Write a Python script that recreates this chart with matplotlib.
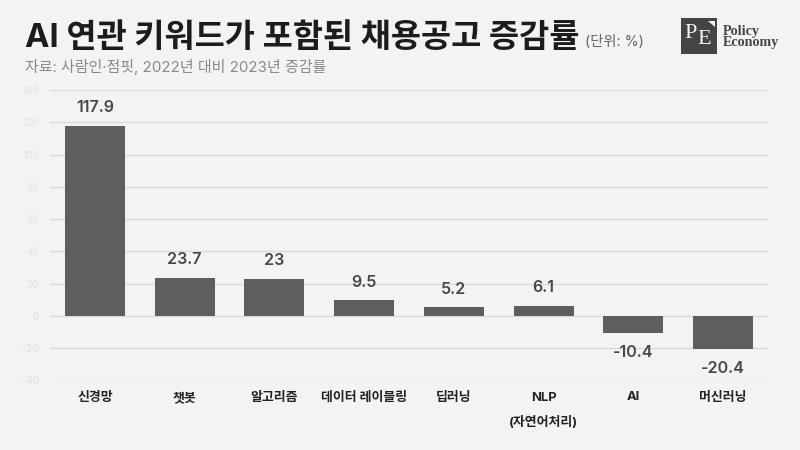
import matplotlib
matplotlib.use("Agg")
import matplotlib.pyplot as plt
from matplotlib.patches import Rectangle, Polygon

plt.rcParams['font.family'] = ['Inter', 'Noto Sans CJK KR', 'DejaVu Sans']

categories = ['신경망', '챗봇', '알고리즘', '데이터 레이블링', '딥러닝', 'NLP\n(자연어처리)', 'AI', '머신러닝']
values = [117.9, 23.7, 23, 9.5, 5.2, 6.1, -10.4, -20.4]
value_labels = ['117.9', '23.7', '23', '9.5', '5.2', '6.1', '-10.4', '-20.4']
y_ticks = [-40, -20, 0, 20, 40, 60, 80, 100, 120, 140]

BG = '#f4f2f4'
BAR = '#5e5e5e'
W, H = 800, 450

fig = plt.figure(figsize=(8, 4.5), dpi=100, facecolor=BG)
ax = fig.add_axes([50 / W, 1 - 380.3 / H, 718 / W, 290.3 / H], facecolor=BG)

x = range(len(values))
ax.bar(x, values, width=0.668, color=BAR, zorder=3)
ax.set_xlim(-0.5, 7.5)
ax.set_ylim(-40, 140)
ax.set_yticks(y_ticks)
ax.set_yticklabels([str(v).replace('-', '−') for v in y_ticks], fontsize=7, color='#e2e0e2')
ax.yaxis.grid(True, color='#dcdadc', linewidth=1, zorder=0)
ax.tick_params(axis='y', length=0, pad=8)
ax.tick_params(axis='x', length=0)
ax.set_xticks([])
for s in ax.spines.values():
    s.set_visible(False)

for i, (v, lab) in enumerate(zip(values, value_labels)):
    off = 13 if v >= 0 else -14
    ax.annotate(lab, (i, v), xytext=(0, off), textcoords='offset points', ha='center', va='center',
                fontsize=11.6, fontweight='semibold', color='#484848', zorder=4)

for i, c in enumerate(categories):
    parts = c.split('\n')
    ty = 398 if c != 'AI' else 396.5
    px = 95 + i * 89.75
    fig.text(px / W, 1 - ty / H, parts[0], ha='center', va='center', fontsize=9.3,
             fontweight='bold', color='#222222')
    if len(parts) > 1:
        fig.text(px / W, 1 - 422 / H, parts[1], ha='center', va='center', fontsize=9.3,
                 fontweight='bold', color='#222222')

fig.text(25 / W, 1 - 38 / H, 'AI 연관 키워드가 포함된 채용공고 증감률', ha='left', va='center',
         fontsize=23.6, fontweight='bold', color='#1c1c1c')
fig.text(585 / W, 1 - 41.5 / H, '(단위: %)', ha='left', va='center', fontsize=10.3, color='#666666')
fig.text(25 / W, 1 - 67 / H, '자료: 사람인·점핏, 2022년 대비 2023년 증감률', ha='left', va='center',
         fontsize=10.8, color='#8a8a8a')

# logo
fig.add_artist(Rectangle((681 / W, 1 - 54 / H), 36 / W, 36 / H, transform=fig.transFigure,
                         facecolor='#444444', edgecolor='none'))
fig.add_artist(Polygon([(708 / W, 1 - 21 / H), (714.5 / W, 1 - 21 / H), (714.5 / W, 1 - 27 / H)],
                       closed=True, transform=fig.transFigure, facecolor='#f4f2f4', edgecolor='none'))
fig.text(690.5 / W, 1 - 34 / H, 'P', ha='center', va='center', fontsize=16, family='Liberation Serif', color='#f4f2f4')
fig.text(704.5 / W, 1 - 40 / H, 'E', ha='center', va='center', fontsize=16, family='Liberation Serif', color='#f4f2f4')
fig.text(723 / W, 1 - 31 / H, 'Policy', ha='left', va='center', fontsize=10.2, family='Liberation Serif',
         fontweight='bold', color='#444444')
fig.text(723 / W, 1 - 42.5 / H, 'Economy', ha='left', va='center', fontsize=10.2, family='Liberation Serif',
         fontweight='bold', color='#444444')

fig.savefig('out.png', dpi=100, facecolor=BG)
